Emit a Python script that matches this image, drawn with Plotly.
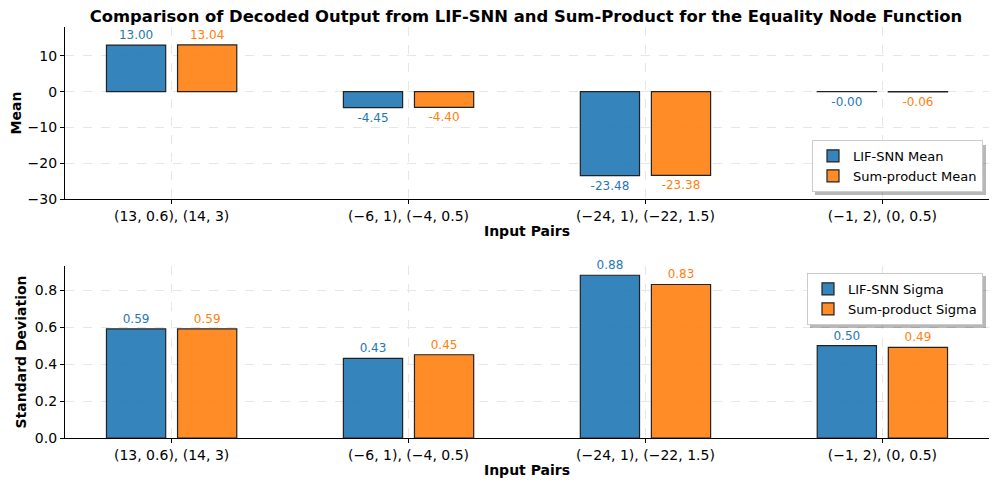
import plotly.graph_objects as go

categories = ["(13, 0.6), (14, 3)", "(−6, 1), (−4, 0.5)", "(−24, 1), (−22, 1.5)", "(−1, 2), (0, 0.5)"]
snn_mean = [13.00, -4.45, -23.48, -0.004]
sp_mean = [13.04, -4.40, -23.38, -0.06]
snn_sigma = [0.59, 0.43, 0.88, 0.50]
sp_sigma = [0.59, 0.45, 0.83, 0.49]

BLUE = "#1f77b4"
ORANGE = "#ff7f0e"
BLUE_FILL = "rgba(31,119,180,0.9)"
ORANGE_FILL = "rgba(255,127,14,0.9)"
FONT = "DejaVu Sans"

W, H, OFF = 997, 487, 8
def px(x): return (x - OFF) / W
def py(y): return 1 - (y - OFF) / H

fig = go.Figure()

def add_bar(vals, name, fill, txtcolor, xa, ya, legend):
    fig.add_trace(go.Bar(
        x=categories, y=vals, name=name,
        marker=dict(color=fill, line=dict(color="#222222", width=1.2)),
        text=[f"{v:.2f}" for v in vals], textposition="outside",
        textfont=dict(color=txtcolor, size=12, family=FONT),
        cliponaxis=False, xaxis=xa, yaxis=ya, legend=legend,
    ))

add_bar(snn_mean, "LIF-SNN Mean", BLUE_FILL, BLUE, "x", "y", "legend")
add_bar(sp_mean, "Sum-product Mean", ORANGE_FILL, ORANGE, "x", "y", "legend")
add_bar(snn_sigma, "LIF-SNN Sigma", BLUE_FILL, BLUE, "x2", "y2", "legend2")
add_bar(sp_sigma, "Sum-product Sigma", ORANGE_FILL, ORANGE, "x2", "y2", "legend2")

xcommon = dict(
    range=[-0.45, 3.45], showline=True, linecolor="black", linewidth=1.3,
    ticks="outside", ticklen=4, tickcolor="black",
    showgrid=True, gridcolor="#e6e6e6", griddash="dash", gridwidth=0.8,
    tickfont=dict(size=14, family=FONT, color="black"),
    title=dict(text="<b>Input Pairs</b>", font=dict(size=14, family=FONT, color="black"), standoff=3),
    automargin=False, domain=[px(65), px(989)],
)
ycommon = dict(
    showline=True, linecolor="black", linewidth=1.3,
    ticks="outside", ticklen=4, tickcolor="black",
    showgrid=True, gridcolor="#e6e6e6", griddash="dash", gridwidth=0.8,
    zeroline=False, tickfont=dict(size=14, family=FONT, color="black"),
    automargin=False,
)

# legend drop shadows (decorative)
shadows = []
for (x0, y0, x1, y1) in [(815, 145, 986, 195), (810, 276, 986, 328)]:
    shadows.append(dict(type="rect", xref="paper", yref="paper",
                        x0=px(x0), x1=px(x1), y0=py(y1), y1=py(y0),
                        fillcolor="rgba(0,0,0,0.28)", line=dict(width=0), layer="above"))

fig.update_layout(
    width=W, height=H,
    margin=dict(l=0, r=0, t=0, b=0),
    paper_bgcolor="white", plot_bgcolor="white",
    font=dict(family=FONT, color="black"),
    barmode="group", bargap=0.4, bargroupgap=0.1667,
    title=dict(text="<b>Comparison of Decoded Output from LIF-SNN and Sum-Product for the Equality Node Function</b>",
               x=px(526), xanchor="center", y=py(16), yanchor="middle",
               font=dict(size=16.4, family=FONT, color="black")),
    xaxis=dict(xcommon, anchor="y"),
    yaxis=dict(ycommon, domain=[py(199), py(27)], range=[-30, 18.05],
               tickvals=[-30, -20, -10, 0, 10], ticktext=["−30", "−20", "−10", "0", "10"],
               title=dict(text="<b>Mean</b>", font=dict(size=14, family=FONT), standoff=6)),
    xaxis2=dict(xcommon, anchor="y2"),
    yaxis2=dict(ycommon, domain=[py(438), py(266)], range=[0, 0.93],
                tickvals=[0, 0.2, 0.4, 0.6, 0.8], tickformat=".1f",
                title=dict(text="<b>Standard Deviation</b>", font=dict(size=14, family=FONT), standoff=4)),
    legend=dict(x=px(983), y=py(192), xanchor="right", yanchor="bottom",
                bgcolor="white", bordercolor="#cccccc", borderwidth=1,
                font=dict(size=13, family=FONT, color="black"), tracegroupgap=0),
    legend2=dict(x=px(983), y=py(273), xanchor="right", yanchor="top",
                 bgcolor="white", bordercolor="#cccccc", borderwidth=1,
                 font=dict(size=13, family=FONT, color="black"), tracegroupgap=0),
    shapes=shadows,
    showlegend=True,
)

fig.write_html("out.html")
